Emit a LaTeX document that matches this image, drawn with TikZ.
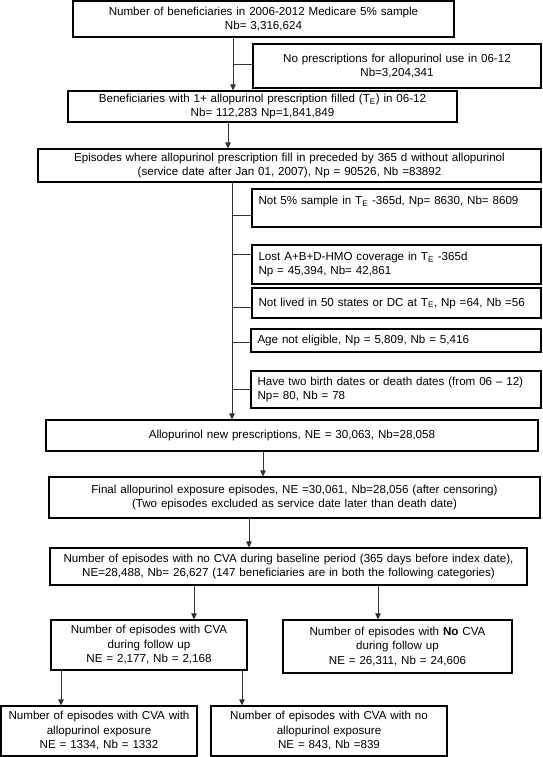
\documentclass[tikz,border=0pt]{standalone}
\usepackage{fontspec}
\setmainfont{Liberation Sans}
\usetikzlibrary{arrows.meta}
\tikzset{
  box/.style={draw=black, line width=1.1pt, inner sep=0pt, align=center,
    font=\fontsize{11.6}{14.5}\selectfont},
  lbox/.style={box, align=left},
  conn/.style={draw=black!80, line width=0.9pt},
  arr/.style={conn, -{Triangle[length=6pt,width=5.5pt]}},
}
\begin{document}
\begin{tikzpicture}[x=1pt,y=-1pt]
\useasboundingbox (0,0) rectangle (542,757);
\node[box, minimum width=381pt, minimum height=36pt, text width=375pt] (B1) at (263.5,19)
  {Number of beneficiaries in 2006-2012 Medicare 5\% sample\\Nb= 3,316,624};
\node[box, minimum width=288pt, minimum height=44pt, text width=282pt] (B2) at (397,66)
  {No prescriptions for allopurinol use in 06-12\\Nb=3,204,341};
\node[box, minimum width=389pt, minimum height=31pt, text width=383pt] (B3) at (262.5,106.5)
  {Beneficiaries with 1+ allopurinol prescription filled (T\textsubscript{E}) in 06-12\\Nb= 112,283 Np=1,841,849};
\node[box, minimum width=503pt, minimum height=33pt, text width=497pt] (B4) at (289.5,165.5)
  {Episodes where allopurinol prescription fill in preceded by 365 d without allopurinol\\(service date after Jan 01, 2007), Np = 90526, Nb =83892};
\node[lbox, minimum width=289pt, minimum height=38pt, text width=276pt] (B5) at (396.5,208)
  {Not 5\% sample in T\textsubscript{E} -365d, Np= 8630, Nb= 8609\\\mbox{}};
\node[lbox, minimum width=289pt, minimum height=39pt, text width=276pt] (B6) at (396.5,264.5)
  {Lost A+B+D-HMO coverage in T\textsubscript{E} -365d\\Np = 45,394, Nb= 42,861};
\node[lbox, minimum width=289pt, minimum height=30pt, text width=276pt] (B7) at (396.5,303)
  {Not lived in 50 states or DC at T\textsubscript{E}, Np =64, Nb =56};
\node[lbox, minimum width=290pt, minimum height=23pt, text width=277pt] (B8) at (396,340.5)
  {Age not eligible, Np = 5,809, Nb = 5,416};
\node[lbox, minimum width=290pt, minimum height=37pt, text width=277pt] (B9) at (396,389.5)
  {Have two birth dates or death dates (from 06 -- 12)\\Np= 80, Nb = 78};
\node[box, minimum width=492pt, minimum height=31pt, text width=486pt] (B10) at (292,435.5)
  {Allopurinol new prescriptions, NE = 30,063, Nb=28,058};
\node[box, minimum width=491pt, minimum height=41pt, text width=485pt] (B11) at (294.5,497.5)
  {Final allopurinol exposure episodes, NE =30,061, Nb=28,056 (after censoring)\\(Two episodes excluded as service date later than death date)};
\node[box, minimum width=477pt, minimum height=37pt, text width=473pt] (B12) at (288.5,566.5)
  {Number of episodes with no CVA during baseline period (365 days before index date),\\NE=28,488, Nb= 26,627 (147 beneficiaries are in both the following categories)};
\node[box, minimum width=196pt, minimum height=50pt, text width=190pt] (B13) at (149,645)
  {Number of episodes with CVA\\during follow up\\NE = 2,177, Nb = 2,168};
\node[box, minimum width=229pt, minimum height=53pt, text width=223pt] (B14) at (397.5,646.5)
  {Number of episodes with \textbf{No} CVA\\during follow up\\NE = 26,311, Nb = 24,606};
\node[box, minimum width=196pt, minimum height=50pt, text width=190pt] (B15) at (99,731)
  {Number of episodes with CVA with\\allopurinol exposure\\NE = 1334, Nb = 1332};
\node[box, minimum width=236pt, minimum height=50pt, text width=230pt] (B16) at (329,731)
  {Number of episodes with CVA with no\\allopurinol exposure\\NE = 843, Nb =839};
% connector columns
\coordinate (c1) at (233,0);
\coordinate (c2) at (228,0);
\coordinate (c3) at (232,0);
\coordinate (c4) at (263,0);
\coordinate (c5) at (249,0);
\coordinate (c6) at (194,0);
\coordinate (c7) at (378,0);
\coordinate (c8) at (61,0);
\coordinate (c9) at (242,0);
\draw[arr] (B1.south -| c1) -- (B3.north -| c1);
\draw[conn] (c1 |- B2.west) ++(0,-2) -- ([yshift=2pt]B2.west);
\draw[arr] (B3.south -| c2) -- (B4.north -| c2);
\draw[arr] (B4.south -| c3) -- (B10.north -| c3);
\draw[conn] ([yshift=-7pt]B5.west -| c3) -- ([yshift=-7pt]B5.west);
\draw[conn] ([yshift=10pt]B6.west -| c3) -- ([yshift=10pt]B6.west);
\draw[conn] ([yshift=-4pt]B7.west -| c3) -- ([yshift=-4pt]B7.west);
\draw[conn] ([yshift=-2pt]B8.west -| c3) -- ([yshift=-2pt]B8.west);
\draw[conn] (B9.west -| c3) -- (B9.west);
\draw[arr] (B10.south -| c4) -- (B11.north -| c4);
\draw[arr] (B11.south -| c5) -- (B12.north -| c5);
\draw[arr] (B12.south -| c6) -- (B13.north -| c6);
\draw[arr] (B12.south -| c7) -- (B14.north -| c7);
\draw[arr] (B13.south -| c8) -- (B15.north -| c8);
\draw[arr] (B13.south -| c9) -- (B16.north -| c9);
\end{tikzpicture}
\end{document}
